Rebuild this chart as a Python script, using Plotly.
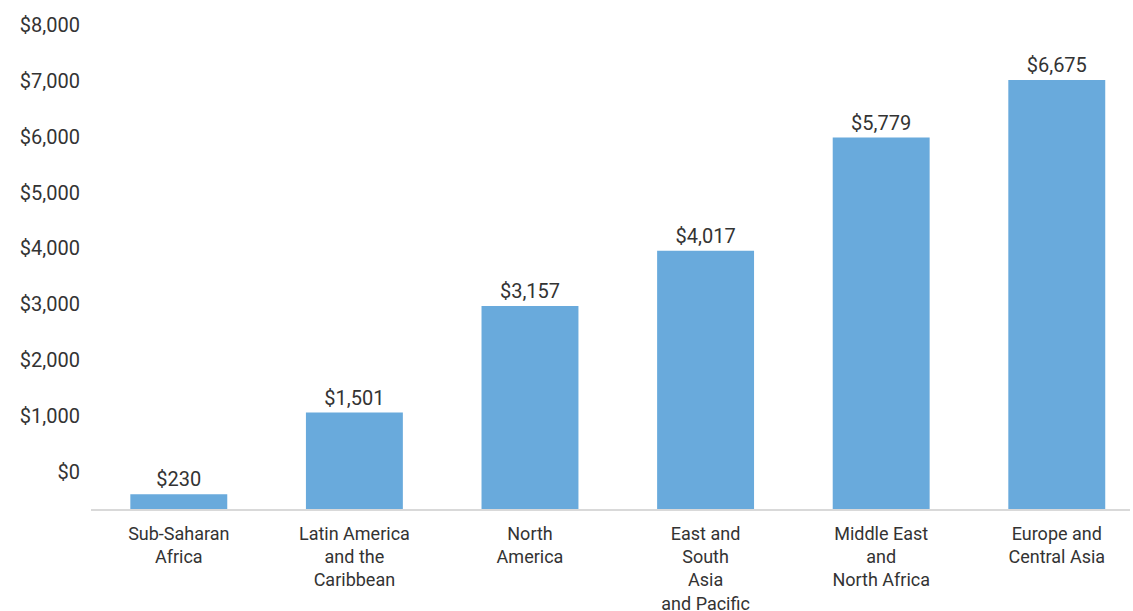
import plotly.graph_objects as go

# regions and values
regions = [
    "Sub-Saharan<br>Africa",
    "Latin America<br>and the<br>Caribbean",
    "North<br>America",
    "East and<br>South<br>Asia<br>and Pacific",
    "Middle East<br>and<br>North Africa",
    "Europe and<br>Central Asia",
]
values = [230, 1501, 3157, 4017, 5779, 6675]

# left-hand scale as printed (it does not line up with the bars in the source)
scale_ticks = [0, 1000, 2000, 3000, 4000, 5000, 6000, 7000, 8000]
scale_labels = [f"${t:,}" for t in scale_ticks]

BAR_COLOR = "#69aadc"
TEXT_COLOR = "#333333"
FONT = "Roboto, Liberation Sans, Arial, sans-serif"

fig = go.Figure()

fig.add_trace(
    go.Bar(
        x=regions,
        y=values,
        marker=dict(color=BAR_COLOR, line=dict(width=0)),
        text=[f"${v:,.0f}" for v in values],
        textposition="outside",
        textfont=dict(size=20, color=TEXT_COLOR, family=FONT),
        cliponaxis=False,
        yaxis="y",
    )
)

# invisible trace to carry the second (label) axis
fig.add_trace(
    go.Scatter(
        x=[regions[0]],
        y=[scale_ticks[0]],
        mode="markers",
        marker=dict(opacity=0),
        hoverinfo="skip",
        showlegend=False,
        yaxis="y2",
    )
)

fig.update_layout(
    width=1133,
    height=611,
    showlegend=False,
    plot_bgcolor="white",
    paper_bgcolor="white",
    font=dict(family=FONT, size=18, color=TEXT_COLOR),
    margin=dict(l=91, r=3, t=20, b=102),
    bargap=0.448,
    xaxis=dict(
        type="category",
        range=[-0.5, 5.417],
        automargin=False,
        showline=True,
        linecolor="#d9d9d9",
        linewidth=2,
        showgrid=False,
        ticks="outside",
        ticklen=7,
        tickcolor="rgba(0,0,0,0)",
        tickfont=dict(size=18, color=TEXT_COLOR),
    ),
    yaxis=dict(
        range=[0, 7608],
        visible=False,
        automargin=False,
        showgrid=False,
        zeroline=False,
    ),
    yaxis2=dict(
        overlaying="y",
        side="left",
        range=[-668, 8090],
        automargin=False,
        tickmode="array",
        tickvals=scale_ticks,
        ticktext=scale_labels,
        showgrid=False,
        zeroline=False,
        showline=False,
        ticks="outside",
        ticklen=6,
        tickcolor="rgba(0,0,0,0)",
        tickfont=dict(size=20, color=TEXT_COLOR),
    ),
)

# drop the browser's default body margin so the figure sits at the top-left corner
fig.write_html(
    "out.html",
    config={"displayModeBar": False},
    post_script="document.body.style.margin='0';document.body.style.overflow='hidden';",
)
